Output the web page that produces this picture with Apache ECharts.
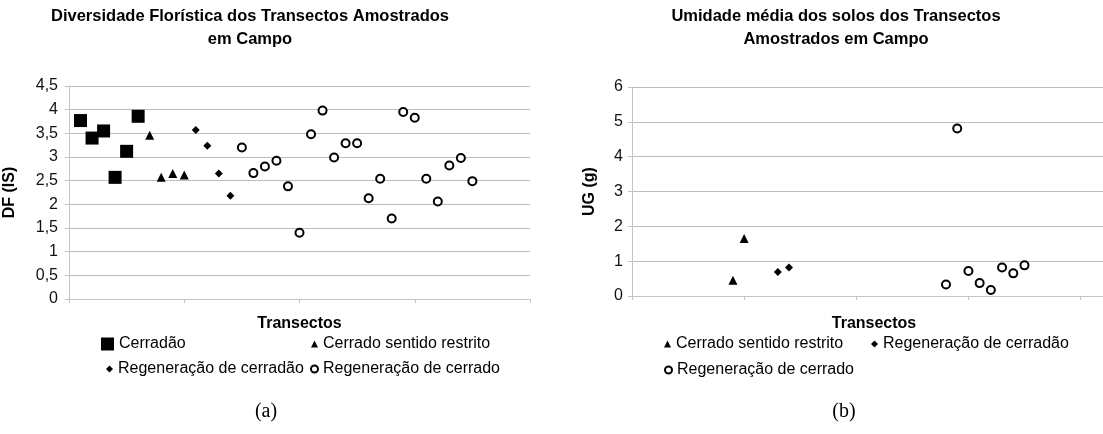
<!DOCTYPE html>
<html>
<head>
<meta charset="utf-8">
<script src="https://cdn.jsdelivr.net/npm/echarts@6/dist/echarts.min.js"></script>
<style>
html,body{margin:0;padding:0;background:#fff;}
#chart{width:1103px;height:434px;}
</style>
</head>
<body>
<div id="chart"></div>
<script>
// ---- Data ----
const seriesNames = ["Cerradão", "Cerrado sentido restrito", "Regeneração de cerradão", "Regeneração de cerrado"];

// (a) Diversidade Florística – DF (IS)
const dfCerradaoX = [1, 2, 3, 4, 5, 6];
const dfCerradaoY = [3.77, 3.40, 3.55, 2.57, 3.12, 3.86];
const dfCerradoSRX = [7, 8, 9, 10];
const dfCerradoSRY = [3.46, 2.57, 2.65, 2.62];
const dfRegCerradaoX = [11, 12, 13, 14];
const dfRegCerradaoY = [3.57, 3.24, 2.65, 2.18];
const dfRegCerradoX = [15, 16, 17, 18, 19, 20, 21, 22, 23, 24, 25, 26, 27, 28, 29, 30, 31, 32, 33, 34, 35];
const dfRegCerradoY = [3.20, 2.66, 2.80, 2.92, 2.38, 1.40, 3.48, 3.98, 2.99, 3.29, 3.29, 2.13, 2.54, 1.70, 3.95, 3.83, 2.54, 2.06, 2.82, 2.98, 2.49];

// (b) Umidade média dos solos – UG (g)
const ugCerradoSRX = [9, 10];
const ugCerradoSRY = [0.45, 1.65];
const ugRegCerradaoX = [13, 14];
const ugRegCerradaoY = [0.69, 0.82];
const ugRegCerradoX = [28, 29, 30, 31, 32, 33, 34, 35];
const ugRegCerradoY = [0.33, 4.81, 0.72, 0.37, 0.17, 0.82, 0.65, 0.88];

const titleA = ["Diversidade Florística dos Transectos Amostrados", "em Campo"];
const titleB = ["Umidade média dos solos dos Transectos", "Amostrados em Campo"];
const xAxisTitle = "Transectos";
const yNameA = "DF (IS)";
const yNameB = "UG (g)";
const panelA = "(a)";
const panelB = "(b)";

// ---- helpers ----
const zip = (xs, ys) => xs.map((x, i) => [x, ys[i]]);
const FONT = "Liberation Sans, Arial, sans-serif";
const gridColor = "#bdbdbd";
const axisColor = "#c4c4c4";

const sym = {
  "Cerradão": {symbol: "rect", size: 13},
  "Cerrado sentido restrito": {symbol: "triangle", size: 9},
  "Regeneração de cerradão": {symbol: "diamond", size: 8},
  "Regeneração de cerrado": {symbol: "emptyCircle", size: 8}
};

function mkSeries(name, xs, ys, idx) {
  const s = sym[name];
  const empty = s.symbol === "emptyCircle";
  return {
    type: "scatter", name: name, xAxisIndex: idx, yAxisIndex: idx,
    symbol: s.symbol, symbolSize: s.size,
    itemStyle: empty ? {color: "#000", borderWidth: 1.3, opacity: 1} : {color: "#000", opacity: 1},
    emphasis: {disabled: true},
    data: zip(xs, ys)
  };
}

function mkXAxis(idx, max) {
  return {
    type: "value", gridIndex: idx, min: 0, max: max, interval: 10,
    axisLabel: {show: false},
    splitLine: {show: false},
    axisLine: {show: true, lineStyle: {color: axisColor, width: 1}},
    axisTick: {show: true, length: 4, lineStyle: {color: axisColor}}
  };
}

function mkYAxis(idx, max, interval, name, gap, margin) {
  return {
    type: "value", gridIndex: idx, min: 0, max: max, interval: interval,
    name: name, nameLocation: "middle", nameGap: gap,
    nameTextStyle: {fontFamily: FONT, fontSize: 16, fontWeight: "bold", color: "#000"},
    axisLabel: {
      fontFamily: FONT, fontSize: 16, color: "#111", margin: margin,
      formatter: v => String(v).replace(".", ",")
    },
    splitLine: {show: true, lineStyle: {color: gridColor, width: 1}},
    axisLine: {show: true, lineStyle: {color: axisColor, width: 1}},
    axisTick: {show: true, length: 4, lineStyle: {color: axisColor}}
  };
}

function mkLegend(name, left, top, w, h) {
  return {
    data: [name], left: left, top: top, padding: 0,
    itemWidth: w, itemHeight: h, selectedMode: false,
    textStyle: {fontFamily: FONT, fontSize: 16, color: "#000"}
  };
}

function txt(x, y, text, font) {
  return {type: "text", x: x, y: y, silent: true,
    style: {text: text, font: font, fill: "#000", textAlign: "center", textVerticalAlign: "middle"}};
}

const chart = echarts.init(document.getElementById("chart"), null, {renderer: "canvas"});
const boldF = "bold 16.5px " + FONT;
chart.setOption({
  animation: false,
  backgroundColor: "#fff",
  grid: [
    {left: 69, top: 86, width: 461, height: 213},
    {left: 632, top: 87, width: 483, height: 209}
  ],
  xAxis: [mkXAxis(0, 40), mkXAxis(1, 42)],
  yAxis: [mkYAxis(0, 4.5, 0.5, yNameA, 51, 11), mkYAxis(1, 6, 1, yNameB, 34, 9)],
  legend: [
    mkLegend(seriesNames[0], 101, 336, 13, 13),
    mkLegend(seriesNames[1], 311, 336, 7, 7),
    mkLegend(seriesNames[2], 106, 361, 7, 7),
    mkLegend(seriesNames[3], 310, 361, 7, 7),
    mkLegend(seriesNames[1], 664, 336, 7, 7),
    mkLegend(seriesNames[2], 871, 336, 7, 7),
    mkLegend(seriesNames[3], 664, 362, 7, 7)
  ],
  graphic: [
    txt(250, 16, titleA[0], boldF),
    txt(250, 39, titleA[1], boldF),
    txt(836, 16, titleB[0], boldF),
    txt(836, 39, titleB[1], boldF),
    txt(299.5, 324, xAxisTitle, "bold 16px " + FONT),
    txt(874, 324, xAxisTitle, "bold 16px " + FONT),
    txt(266, 412, panelA, "20px Liberation Serif, Times New Roman, serif"),
    txt(844, 412, panelB, "20px Liberation Serif, Times New Roman, serif")
  ],
  series: [
    mkSeries(seriesNames[0], dfCerradaoX, dfCerradaoY, 0),
    mkSeries(seriesNames[1], dfCerradoSRX, dfCerradoSRY, 0),
    mkSeries(seriesNames[2], dfRegCerradaoX, dfRegCerradaoY, 0),
    mkSeries(seriesNames[3], dfRegCerradoX, dfRegCerradoY, 0),
    mkSeries(seriesNames[1], ugCerradoSRX, ugCerradoSRY, 1),
    mkSeries(seriesNames[2], ugRegCerradaoX, ugRegCerradaoY, 1),
    mkSeries(seriesNames[3], ugRegCerradoX, ugRegCerradoY, 1)
  ]
});
</script>
</body>
</html>
